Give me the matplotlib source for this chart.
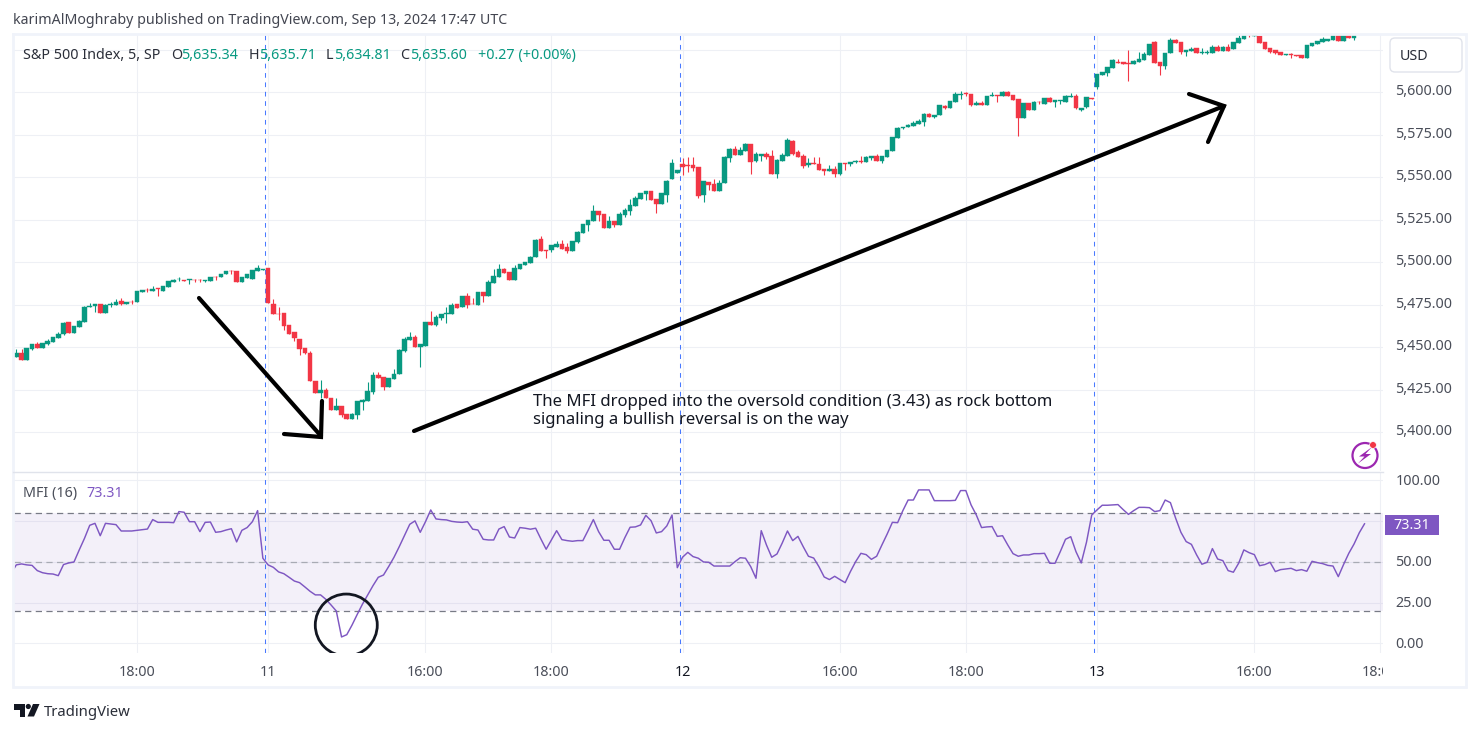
import numpy as np
import matplotlib
matplotlib.use('Agg')
import matplotlib.pyplot as plt
from matplotlib.patches import Rectangle, FancyBboxPatch, Circle, Ellipse, Polygon
from matplotlib.transforms import Bbox, TransformedBbox, ScaledTranslation

plt.rcParams['font.family'] = ['Noto Sans', 'DejaVu Sans']

W, H = 1479, 732

# 5 min bars, bar 48 / 127 / 206 are the session opens
opens = [5444.5,5446.9,5442.7,5449.2,5452.2,5449.8,5452.2,5453.3,5455.7,5457.6,
5465.1,5458.6,5462.1,5465.1,5473.9,5474.1,5475.7,5470.4,5475.1,5475.1,
5477.4,5475.7,5476.8,5476.4,5482.7,5483.9,5483.3,5484.7,5483.3,5485.7,
5488.6,5490.0,5489.8,5489.8,5489.8,5489.8,5489.0,5489.2,5491.3,5491.1,
5492.9,5495.1,5495.1,5488.6,5491.0,5490.4,5495.1,5495.7,
5496.8,5475.7,5469.8,5470.4,5463.3,5459.2,5455.1,5449.8,5446.9,5430.4,
5423.0,5425.1,5420.4,5413.3,5415.7,5411.0,5408.0,5410.4,5418.0,5418.6,
5423.9,5433.9,5432.7,5426.9,5431.6,5434.5,5448.0,5454.5,5456.3,5450.4,
5451.0,5465.1,5463.3,5467.4,5469.8,5469.8,5475.7,5473.9,5480.4,5475.7,
5475.1,5482.5,5480.2,5487.8,5491.4,5496.0,5494.3,5489.6,5496.0,5498.4,
5499.6,5503.1,5513.7,5507.2,5507.2,5509.0,5510.8,5509.0,5506.7,5511.9,
5517.2,5522.0,5524.3,5530.2,5528.4,5520.2,5524.3,5522.0,5527.8,5530.2,
5533.1,5537.2,5540.4,5541.9,5537.2,5534.3,5539.6,5549.0,5552.5,
5557.8,5557.2,5557.2,5556.0,5539.6,5547.2,5546.0,5541.9,5546.6,5561.3,
5566.6,5563.1,5565.5,5569.6,5559.6,5562.5,5563.7,5562.5,5551.9,5559.6,
5562.5,5571.3,5564.9,5562.5,5557.2,5558.4,5557.8,5554.9,5553.9,5554.9,
5551.9,5558.4,5557.8,5559.0,5559.6,5559.0,5561.5,5562.5,5559.4,5562.1,
5565.5,5573.1,5578.8,5579.8,5580.2,5581.3,5582.5,5587.2,5585.5,5586.6,
5591.9,5590.8,5594.3,5598.6,5599.6,5599.0,5592.5,5593.5,5592.5,5597.8,
5598.2,5597.8,5600.2,5598.4,5596.0,5584.9,5593.7,5589.6,5594.5,5593.1,
5596.6,5594.3,5594.9,5594.3,5597.0,5597.8,5589.6,5591.3,5596.6,
5603.1,5610.2,5611.3,5614.3,5617.8,5617.8,5617.0,5616.6,5617.8,5619.0,
5621.9,5629.6,5617.8,5615.5,5622.9,5630.7,5629.6,5623.7,5624.5,5626.0,
5623.1,5623.1,5622.9,5626.6,5624.3,5626.6,5625.4,5629.0,5631.5,5633.9,
5633.1,5633.3,5629.6,5626.0,5624.9,5623.5,5622.1,5622.5,5622.1,5621.7,
5620.2,5627.2,5628.4,5629.6,5630.3,5630.7,5633.7,5630.2,5634.3,5631.9]
highs = [5449.2,5449.2,5449.8,5452.2,5453.3,5452.5,5454.9,5456.1,5459.0,5465.1,
5465.1,5462.5,5466.3,5474.3,5476.0,5475.7,5475.7,5475.7,5476.8,5478.2,
5479.2,5476.8,5478.0,5483.3,5483.9,5485.1,5486.3,5484.7,5486.3,5489.2,
5490.2,5491.2,5489.8,5490.2,5490.4,5490.4,5489.8,5491.3,5492.1,5493.3,
5495.1,5495.7,5495.1,5491.5,5493.3,5495.7,5498.6,5496.1,
5496.8,5478.4,5473.9,5470.4,5463.3,5459.2,5455.1,5449.8,5448.0,5430.4,
5431.0,5426.1,5420.4,5420.2,5415.7,5411.0,5411.4,5418.6,5419.8,5429.8,
5435.5,5435.7,5432.7,5432.2,5437.4,5449.0,5455.9,5459.2,5457.4,5452.2,
5465.1,5471.5,5469.0,5469.8,5473.9,5476.0,5475.7,5480.4,5482.1,5479.2,
5482.7,5482.5,5489.6,5496.0,5499.0,5496.7,5494.3,5498.4,5499.0,5500.2,
5503.7,5513.7,5515.5,5507.2,5510.0,5512.5,5513.1,5511.4,5512.5,5518.4,
5522.5,5524.9,5533.7,5530.2,5528.4,5527.2,5524.3,5529.6,5531.9,5537.0,
5538.8,5540.8,5541.9,5541.9,5537.2,5540.8,5548.4,5560.7,5554.3,
5561.3,5561.9,5561.9,5556.0,5547.8,5547.2,5549.0,5548.4,5562.5,5567.2,
5568.4,5567.8,5570.2,5569.6,5564.9,5563.7,5564.9,5566.0,5560.7,5564.3,
5573.1,5571.9,5566.0,5563.7,5561.3,5561.9,5561.9,5554.9,5557.2,5556.6,
5558.4,5558.4,5559.0,5560.2,5562.5,5562.5,5562.5,5563.7,5562.5,5566.0,
5573.7,5579.5,5579.8,5581.5,5583.0,5584.3,5587.8,5587.8,5586.8,5592.5,
5592.5,5594.9,5600.2,5600.7,5600.2,5599.0,5594.9,5594.9,5597.8,5600.2,
5598.2,5600.7,5600.7,5598.4,5596.0,5593.7,5593.7,5594.9,5594.9,5596.6,
5597.2,5595.5,5595.5,5598.2,5599.6,5599.0,5590.6,5597.2,5596.6,
5610.7,5611.9,5614.9,5619.6,5619.6,5617.8,5624.9,5619.0,5623.7,5623.7,
5628.4,5630.2,5617.8,5622.9,5631.9,5631.3,5629.6,5624.9,5626.6,5626.0,
5626.0,5624.9,5627.8,5627.8,5627.2,5628.4,5629.6,5633.7,5634.3,5634.3,
5634.3,5633.3,5629.6,5626.0,5624.9,5623.5,5622.7,5623.1,5622.1,5621.7,
5627.8,5629.0,5630.2,5632.5,5631.3,5633.7,5634.0,5635.0,5635.0,5635.7]
lows = [5444.5,5442.7,5442.7,5448.2,5449.4,5449.4,5451.6,5453.3,5455.3,5457.2,
5458.6,5458.6,5462.1,5465.1,5473.9,5471.0,5470.4,5470.4,5473.9,5475.1,
5475.1,5475.7,5475.7,5476.4,5482.3,5482.3,5482.9,5480.4,5483.3,5485.7,
5488.6,5489.0,5489.0,5487.0,5488.4,5488.2,5488.4,5489.2,5489.8,5491.1,
5492.9,5493.3,5488.6,5488.6,5491.0,5490.4,5495.1,5495.7,
5476.0,5469.4,5466.3,5460.0,5457.6,5453.9,5445.3,5446.3,5430.4,5423.0,
5420.4,5420.4,5412.9,5413.3,5409.0,5407.5,5407.5,5407.5,5413.3,5418.6,
5422.7,5432.2,5425.1,5426.9,5431.6,5434.5,5447.4,5454.5,5450.4,5438.6,
5451.0,5463.3,5462.7,5466.3,5464.5,5469.8,5473.3,5473.9,5473.3,5475.3,
5475.1,5476.7,5480.2,5487.8,5491.4,5493.7,5489.6,5489.6,5496.0,5498.4,
5499.6,5503.1,5506.7,5502.5,5506.0,5509.0,5507.8,5505.5,5506.7,5511.4,
5517.2,5518.4,5524.3,5524.3,5520.2,5520.2,5520.8,5522.0,5526.6,5527.8,
5533.1,5537.2,5536.6,5536.6,5529.0,5534.3,5535.5,5549.0,5552.5,
5551.3,5553.1,5553.7,5537.8,5535.5,5542.5,5541.9,5541.9,5546.6,5559.0,
5563.1,5563.1,5565.5,5551.9,5559.0,5559.6,5560.7,5551.9,5549.6,5559.6,
5562.5,5563.1,5561.9,5555.5,5556.0,5558.0,5554.3,5551.3,5553.9,5550.2,
5551.3,5554.3,5556.6,5558.4,5558.4,5559.0,5560.2,5559.6,5558.6,5562.1,
5565.5,5573.1,5578.4,5579.8,5580.2,5581.3,5580.2,5585.7,5585.1,5586.6,
5590.2,5590.8,5594.3,5596.2,5597.8,5591.9,5592.5,5592.5,5592.5,5597.8,
5594.3,5597.8,5597.8,5595.5,5574.3,5584.9,5589.6,5589.6,5593.1,5593.1,
5594.3,5591.3,5593.1,5594.3,5597.0,5590.2,5589.0,5590.8,5596.2,
5602.1,5610.2,5609.6,5614.3,5617.4,5616.6,5606.6,5616.6,5617.8,5619.0,
5621.9,5617.2,5610.2,5613.7,5622.9,5629.0,5622.5,5621.3,5624.5,5623.1,
5622.5,5622.5,5622.9,5624.3,5624.3,5624.5,5625.4,5629.0,5631.5,5632.7,
5633.1,5629.0,5625.4,5623.1,5622.5,5622.1,5622.1,5620.2,5621.3,5620.2,
5620.2,5627.2,5628.4,5629.6,5630.3,5630.7,5630.2,5630.2,5631.9,5630.7]
closes = [5446.7,5442.7,5449.8,5452.2,5449.8,5452.5,5453.7,5456.1,5458.0,5464.5,
5458.6,5462.5,5465.7,5473.9,5474.5,5475.7,5470.4,5475.1,5475.5,5476.8,
5475.7,5476.8,5476.4,5483.3,5483.9,5483.5,5484.5,5484.5,5486.3,5489.2,
5489.8,5490.4,5489.0,5490.2,5489.6,5489.4,5489.8,5491.3,5491.1,5493.3,
5495.1,5494.9,5488.6,5491.5,5493.3,5495.7,5496.8,5496.1,
5476.0,5469.4,5469.4,5462.7,5457.6,5455.7,5449.2,5446.9,5430.4,5423.0,
5425.1,5420.4,5413.3,5415.7,5410.4,5408.0,5411.0,5418.6,5419.2,5424.5,
5433.9,5432.2,5426.9,5432.2,5434.5,5448.6,5455.1,5456.3,5450.4,5452.2,
5465.1,5463.3,5468.0,5469.8,5470.2,5475.1,5473.3,5480.4,5475.1,5475.3,
5482.7,5480.2,5488.4,5492.0,5496.0,5493.7,5489.6,5496.7,5499.0,5500.2,
5503.1,5513.1,5506.7,5506.8,5510.0,5510.8,5507.8,5506.7,5512.5,5517.8,
5522.5,5524.9,5530.2,5527.8,5520.2,5524.3,5522.0,5528.4,5530.8,5533.7,
5537.8,5540.8,5541.9,5536.6,5534.3,5540.8,5547.8,5558.4,5554.3,
5556.0,5556.8,5555.5,5539.0,5547.8,5545.5,5541.9,5546.6,5561.9,5566.6,
5563.1,5566.0,5569.6,5559.0,5563.7,5563.7,5561.9,5551.9,5560.2,5563.1,
5571.9,5563.7,5561.9,5556.6,5558.2,5558.0,5554.3,5553.7,5554.9,5551.9,
5558.4,5558.0,5559.0,5559.6,5559.0,5561.9,5562.5,5559.6,5562.5,5566.0,
5573.7,5579.0,5579.8,5580.8,5581.9,5583.1,5587.2,5585.7,5586.8,5592.5,
5590.8,5594.9,5599.0,5599.0,5599.2,5592.5,5593.5,5592.5,5597.8,5598.2,
5597.8,5600.2,5597.8,5595.5,5584.9,5593.7,5589.6,5594.3,5594.1,5596.6,
5594.3,5595.5,5595.5,5597.6,5597.8,5590.8,5590.6,5597.2,5596.2,
5610.7,5611.9,5614.9,5619.0,5617.4,5616.6,5616.6,5618.6,5619.6,5622.5,
5628.4,5617.2,5615.5,5622.9,5630.7,5629.0,5623.7,5624.9,5625.4,5623.1,
5623.7,5623.7,5626.6,5624.3,5626.6,5624.5,5629.6,5631.9,5633.9,5633.5,
5633.9,5629.0,5625.4,5623.7,5623.1,5622.1,5622.7,5621.7,5621.3,5620.2,
5627.8,5629.0,5630.2,5631.3,5631.3,5633.7,5630.2,5634.3,5631.9,5635.6]

mfi = [42.9,48.1,48.7,48.1,47.8,44.6,43.3,42.7,42.5,41.5,48.3,49.3,49.9,57.3,64.4,72.4,73.6,66.0,73.6,73.2,
72.8,68.9,68.9,68.9,69.3,69.7,70.1,75.9,74.2,74.2,74.2,74.0,80.8,80.4,74.6,74.6,68.5,74.2,74.4,68.1,
68.5,69.5,70.3,62.2,69.3,71.0,74.6,81.4,52.2,48.1,46.6,43.8,42.7,40.5,38.2,37.2,34.6,31.9,29.7,29.7,
27.0,23.5,19.8,3.9,5.3,11.2,17.8,24.1,29.7,35.4,40.5,41.9,47.2,52.8,59.3,66.2,73.0,75.1,68.1,74.6,
81.8,76.3,75.9,75.7,74.8,74.4,74.2,74.6,70.0,69.5,63.8,63.4,63.4,70.1,
71.6,65.2,64.6,71.0,70.6,70.0,70.6,64.0,57.7,63.4,69.1,63.6,63.0,62.6,63.0,63.0,69.3,75.9,68.5,63.2,
63.2,57.7,57.7,64.8,71.2,71.4,72.6,78.5,75.2,67.7,68.5,72.0,78.7,46.4,52.8,55.8,53.2,52.2,49.9,49.7,
47.4,47.4,47.4,47.4,50.1,52.5,52.2,47.0,39.9,69.1,60.3,52.8,54.8,61.5,68.9,63.0,65.6,59.3,53.4,52.3,
47.0,40.7,39.1,41.1,39.1,37.2,44.0,50.1,55.2,54.4,51.5,53.4,60.3,67.0,74.2,74.0,81.4,87.9,87.9,94.1,
94.1,94.1,87.5,87.5,87.5,87.5,87.7,93.7,93.7,84.9,78.7,71.0,71.4,71.6,65.6,
66.0,60.3,55.0,53.4,54.2,54.2,55.0,55.0,55.2,49.1,49.1,56.2,63.8,65.4,56.2,49.3,62.0,78.7,81.8,84.7,
84.7,84.9,85.1,82.0,79.1,81.4,83.4,83.4,83.2,80.8,81.4,87.9,86.3,76.7,68.1,62.4,60.7,54.2,48.5,49.7,
58.1,51.7,50.7,44.6,43.6,49.1,57.3,55.6,54.4,47.6,48.3,49.7,44.0,45.2,45.6,46.0,44.6,45.2,44.2,50.3,
49.5,48.9,47.8,47.4,40.9,48.3,55.2,60.9,67.8,73.31]

price_ticks = [5400, 5425, 5450, 5475, 5500, 5525, 5550, 5575, 5600, 5625]
price_labels = ['5,400.00', '5,425.00', '5,450.00', '5,475.00', '5,500.00', '5,525.00', '5,550.00', '5,575.00', '5,600.00', '']
mfi_ticks = [0, 25, 50, 75, 100]
mfi_labels = ['0.00', '25.00', '50.00', '', '100.00']
time_pos = [23, 48, 78, 102, 127, 157, 181, 206, 236, 260]
time_labels = ['18:00', '11', '16:00', '18:00', '12', '16:00', '18:00', '13', '16:00', '18:00']
day_opens = [48, 127, 206]

up, down = '#089981', '#f23645'
grid_c = '#f0f3fa'
label_c = '#4a4e59'
purple = '#7e57c2'
bar_px = 5.246

x = np.arange(len(opens))
opens, highs, lows, closes = map(np.array, (opens, highs, lows, closes))
colors = np.where(closes >= opens, up, down)


def pane(left, top, right, bottom):
    a = fig.add_axes([left / W, 1 - bottom / H, (right - left) / W, (bottom - top) / H])
    a.set_xlim((left - 16.3) / bar_px, (right - 16.3) / bar_px)
    for s in a.spines.values():
        s.set_visible(False)
    a.set_xticks(time_pos)
    a.grid(color='#eef0f5', lw=0.75)
    a.set_axisbelow(True)
    a.yaxis.tick_right()
    a.tick_params(length=0, labelcolor=label_c, labelsize=10.3)
    return a


def lift(labels, px):
    # tradingview sits the labels slightly above their gridline
    for lbl in labels:
        lbl.set_transform(lbl.get_transform() + ScaledTranslation(0, px / 100, fig.dpi_scale_trans))


fig = plt.figure(figsize=(W / 100, H / 100), dpi=100, facecolor='white')

# price pane
ax = pane(14, 35, 1383, 471)
ax.set_ylim(5377.2, 5633.7)
ax.set_yticks(price_ticks)
ax.set_yticklabels(price_labels)
ax.tick_params(axis='y', pad=9)
ax.tick_params(axis='x', labelbottom=False)
lift(ax.get_yticklabels(), 2.5)
ax.vlines(x, lows, highs, colors=colors, lw=0.8, zorder=3)
ax.bar(x, closes - opens, bottom=opens, width=0.88, color=colors, edgecolor=colors, lw=0.3, zorder=4)

# mfi pane
ax2 = pane(14, 472, 1383, 652.5)
ax2.set_ylim((643.3 - 652.5) / 1.63, (643.3 - 472) / 1.63)
ax2.set_yticks(mfi_ticks)
ax2.set_yticklabels(mfi_labels)
ax2.tick_params(axis='y', pad=9)
lift(ax2.get_yticklabels(), 1.2)
ax2.set_xticklabels(time_labels, fontsize=10.3)
ax2.tick_params(axis='x', pad=8.8)
for lbl, t in zip(ax2.get_xticklabels(), time_labels):
    if t in ('12', '13'):
        lbl.set_fontweight('bold')
        lbl.set_color('#131722')
last = ax2.get_xticklabels()[-1]
last.set_clip_box(TransformedBbox(Bbox([[0, 0], [1383 / W, 1]]), fig.transFigure))
last.set_clip_on(True)

ax2.axhspan(20, 80, color=purple, alpha=0.085, lw=0, zorder=1)
ax2.axhline(80, color='#787b86', lw=0.9, dashes=(5, 3.5), zorder=2)
ax2.axhline(20, color='#787b86', lw=0.9, dashes=(5, 3.5), zorder=2)
ax2.axhline(50, color='#a8abb4', lw=0.9, dashes=(5, 3.5), zorder=2)
ax2.plot(np.arange(len(mfi)) - 1, mfi, color=purple, lw=1.05, zorder=4)
ax2.add_patch(Ellipse((62.9, 11.2), 62 / bar_px, 62 / 1.63, fc='none', ec='#131722', lw=2.0, zorder=5))

for d in day_opens:
    for a in (ax, ax2):
        a.axvline(d - 0.5, color='#2962ff', lw=0.75, alpha=0.85, dashes=(4.5, 4.5), zorder=2.5)

# overlay in pixels for the frame, drawings and text
ov = fig.add_axes([0, 0, 1, 1], facecolor='none')
ov.set_xlim(0, W)
ov.set_ylim(H, 0)
ov.axis('off')

for xs, ys, c, lw in [([13, 1465.5, 1465.5, 13, 13], [34, 34, 687, 687, 34], grid_c, 2.0),
                      ([13, 1383], [471.5, 471.5], '#e0e3eb', 1.0)]:
    ov.plot(xs, ys, color=c, lw=lw, solid_joinstyle='miter')

# hand drawn arrows
for xs, ys in [([199, 321], [298, 436]), ([284, 321, 322], [434, 437, 401]),
               ([414, 1224], [431, 106]), ([1189, 1224, 1208], [94, 106, 142])]:
    ov.plot(xs, ys, color='black', lw=3, solid_capstyle='round', solid_joinstyle='miter', zorder=6)

ov.text(533, 402.5, 'The MFI dropped into the oversold condition (3.43) as rock bottom',
        fontsize=12.05, color='#131722', va='center', ha='left', zorder=7)
ov.text(533, 419.5, 'signaling a bullish reversal is on the way',
        fontsize=12.05, color='#131722', va='center', ha='left', zorder=7)

# header and legend
ov.text(13, 21, 'karimAlMoghraby published on TradingView.com, Sep 13, 2024 17:47 UTC',
        fontsize=10.22, color='#434651', va='center')
ov.text(23, 55.5, 'S&P 500 Index, 5, SP', fontsize=10.3, color='#2a2e39', va='center')
for tx, s, c in [(171, 'O', '#2a2e39'), (181.5, '5,635.34', up), (249, 'H', '#2a2e39'), (259, '5,635.71', up),
                 (326, 'L', '#2a2e39'), (334, '5,634.81', up), (400.5, 'C', '#2a2e39'), (410, '5,635.60', up),
                 (478, '+0.27 (+0.00%)', up)]:
    ov.text(tx, 55.5, s, fontsize=10.3, color=c, va='center')
ov.text(23, 493.5, 'MFI (16)', fontsize=10.3, color='#4a4e59', va='center')
ov.text(86.5, 493.5, '73.31', fontsize=10.3, color=purple, va='center')

# last value badge, currency button
ov.add_patch(Rectangle((1385, 514.5), 54, 20.5, fc=purple, ec='none'))
ov.text(1412, 525.7, '73.31', fontsize=10.3, color='white', fontweight='bold', ha='center', va='center')
ov.add_patch(FancyBboxPatch((1393, 41), 66, 28, boxstyle='round,pad=3,rounding_size=5', fc='white', ec='#e0e3eb', lw=1))
ov.text(1400, 56.5, 'USD', fontsize=10.3, color='#2a2e39', va='center')

# flash icon
ov.add_patch(Circle((1365, 455.5), 12.5, fc='white', ec='#9c27b0', lw=1.6, zorder=5))
ov.add_patch(Polygon([[1372, 447], [1359, 456.5], [1364.5, 456.5], [1358, 463.5], [1371, 454], [1365.5, 454]],
                     fc='#9c27b0', ec='none', zorder=6))
ov.add_patch(Circle((1373, 445), 3.4, fc='#f23645', ec='white', lw=0.5, zorder=7))

# TradingView mark
ov.add_patch(Polygon([[13.5, 704], [25, 704], [25, 716.5], [19.5, 716.5], [19.5, 709.5], [13.5, 709.5]], fc='#131722', ec='none'))
ov.add_patch(Circle((28.3, 706.5), 2.6, fc='#131722', ec='none'))
ov.add_patch(Polygon([[33, 704], [39.5, 704], [34, 716.5], [27.5, 716.5]], fc='#131722', ec='none'))
ov.text(44, 712.5, 'TradingView', fontsize=10.7, color='#2a2e39', va='center')

fig.savefig('out.png', dpi=100)
